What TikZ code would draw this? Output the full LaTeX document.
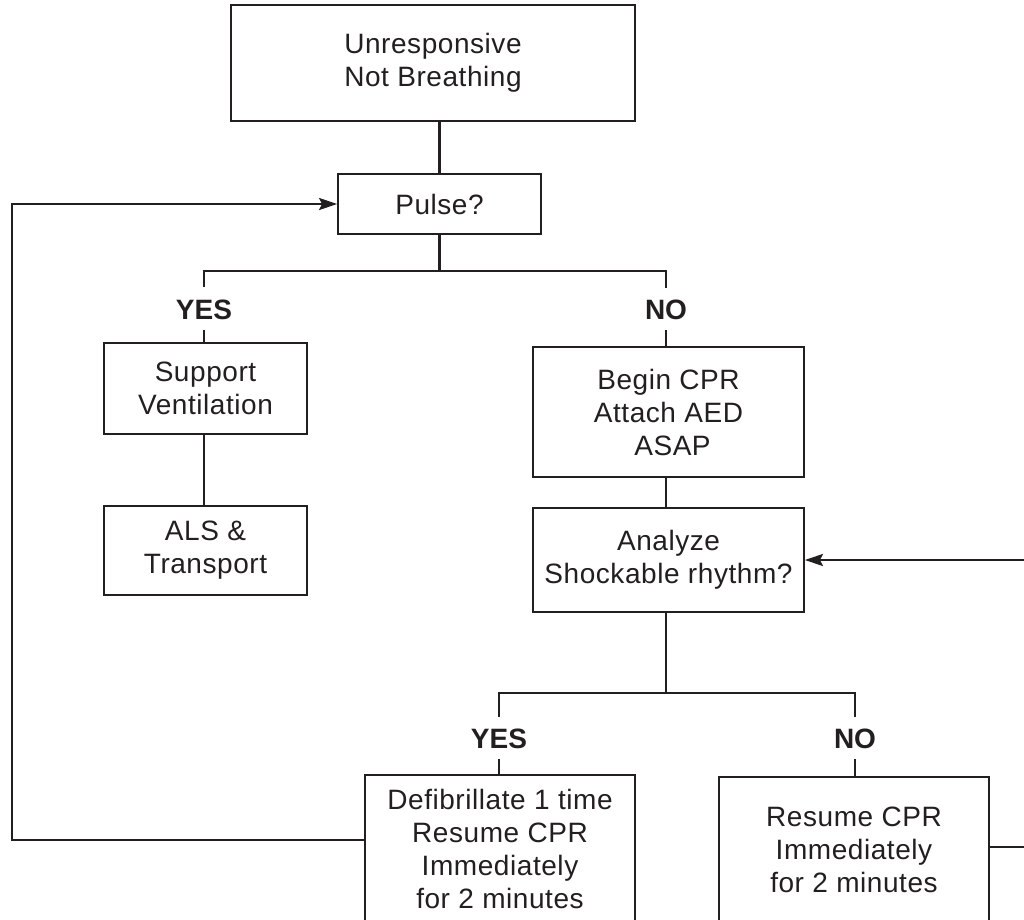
\documentclass[tikz,border=0pt]{standalone}
\usepackage{fontspec}
\setmainfont{Liberation Sans}[LetterSpace=2]
\newfontfamily\lblfont{Liberation Sans}
\usetikzlibrary{arrows.meta}
\definecolor{ink}{HTML}{231F20}
\tikzset{
  boxnode/.style={draw=ink, line width=1.8pt, align=center, inner sep=0pt, text=ink,
    font=\fontsize{28}{33}\selectfont},
  plain/.style={align=center, inner sep=0pt, text=ink, font=\fontsize{28}{33}\selectfont},
  lbl/.style={inner sep=0pt, text=ink, font=\fontsize{28}{33}\lblfont\bfseries},
  conn/.style={draw=ink, line width=2.6pt},
  tolbl/.style={conn, shorten >=12pt},
  fromlbl/.style={conn, shorten <=10pt},
  arr/.style={conn, -{Stealth[length=18pt,width=12pt,inset=3pt]}},
  outline/.style={draw=ink, line width=1.8pt}
}
\begin{document}
\begin{tikzpicture}[x=1pt,y=-1pt]
\useasboundingbox (0,0) rectangle (1024,919);
\clip (0,0) rectangle (1024,919);
\fill[white] (0,0) rectangle (1024,919);

\node[boxnode, minimum width=404pt, minimum height=116pt] (top) at (433,63) {Unresponsive\\Not Breathing};
\node[boxnode, minimum width=203pt, minimum height=60pt] (pulse) at (439.5,204) {Pulse?};

\node[lbl] (yes1) at (204,309.5) {YES};
\node[lbl] (no1) at (666,310) {NO};

\node[boxnode, minimum width=203pt, minimum height=91pt] (support) at (205.5,388.5) {Support\\Ventilation};
\node[boxnode, minimum width=203pt, minimum height=89pt] (als) at (205.5,550.5) {ALS \&\\Transport};

\node[boxnode, minimum width=271pt, minimum height=130pt] (begin) at (668.5,412) {Begin CPR\\Attach AED\\\hspace{8pt}ASAP};
\node[boxnode, minimum width=271pt, minimum height=104pt] (analyze) at (668.5,560) {Analyze\\Shockable rhythm?};

\node[lbl] (yes2) at (499,739) {YES};
\node[lbl] (no2) at (855,739) {NO};

\node[plain, minimum width=270pt, minimum height=147pt] (defib) at (500,848.5) {Defibrillate 1 time\\Resume CPR\\Immediately\\for 2 minutes};
\draw[outline] ([yshift=-120pt]defib.south west) -- (defib.north west) -- (defib.north east) -- ([yshift=-120pt]defib.south east);
\node[plain, minimum width=270pt, minimum height=146pt] (resume) at (854,850) {Resume CPR\\Immediately\\for 2 minutes};
\draw[outline] ([yshift=-120pt]resume.south west) -- (resume.north west) -- (resume.north east) -- ([yshift=-120pt]resume.south east);

\coordinate (lft) at (12,840);
\coordinate (rgt) at (1030,0);

% connectors
\draw[conn] (top.south -| pulse.north) -- (pulse.north);
\draw[conn] (pulse.south) -- ++(0,36) coordinate (pj);
\draw[tolbl] (pj) -| (yes1.north);
\draw[tolbl] (pj) -| (no1.north);
\draw[fromlbl] (yes1.south) -- (yes1.south |- support.north);
\draw[fromlbl] (no1.south) -- (no1.south |- begin.north);
\draw[conn] (support.south -| yes1) -- (als.north -| yes1);
\draw[conn] (begin.south -| no1) -- (analyze.north -| no1);
\draw[conn] (analyze.south -| no1) -- ++(0,80) coordinate (aj);
\draw[tolbl] (aj) -| (yes2.north);
\draw[tolbl] (aj) -| (no2.north);
\draw[fromlbl] (yes2.south) -- (yes2.south |- defib.north);
\draw[fromlbl] (no2.south) -- (no2.south |- resume.north);

\draw[arr] ([yshift=8.5pt]defib.west) -- ([yshift=8.5pt]defib.west -| lft) |- (pulse.west);
\draw[conn] ([yshift=3pt]resume.east) -- ([yshift=3pt]resume.east -| rgt);
\draw[arr] (analyze.east -| rgt) -- (analyze.east);
\end{tikzpicture}
\end{document}
